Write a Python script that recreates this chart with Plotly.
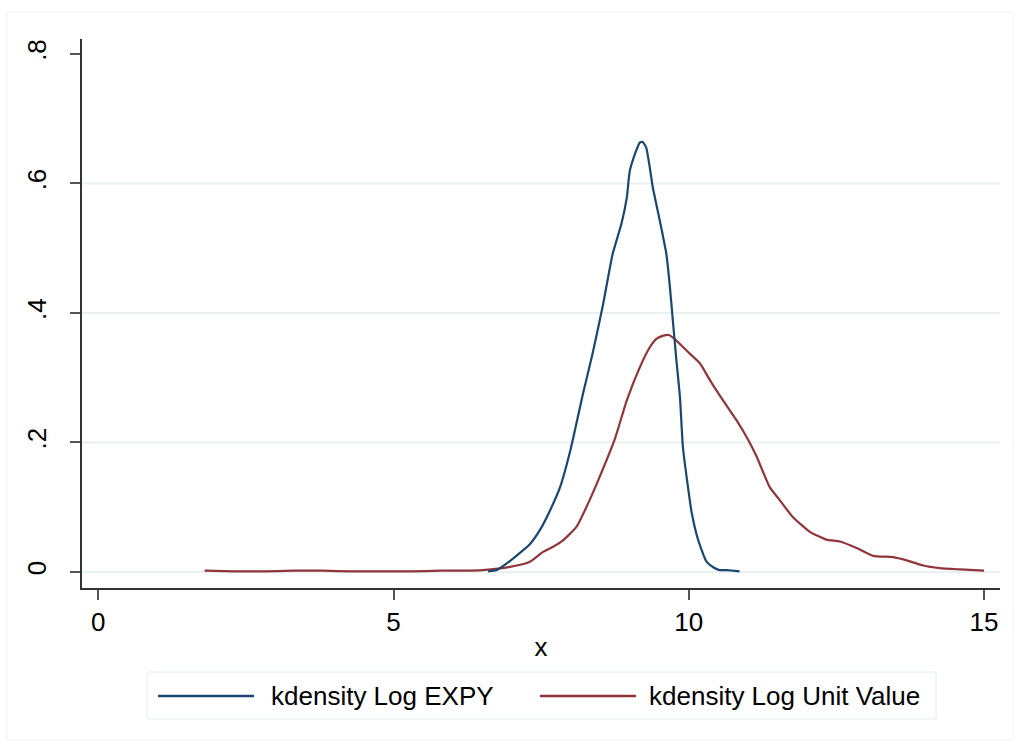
import plotly.graph_objects as go

# ---- data ----
expy_x = [6.6, 6.75, 6.9, 7.08, 7.3, 7.48, 7.65, 7.82, 8.0, 8.21, 8.37, 8.55, 8.71, 8.86, 8.95,
          9.0, 9.09, 9.17, 9.22, 9.28, 9.34, 9.39, 9.51, 9.62, 9.68, 9.73, 9.79, 9.85, 9.90,
          9.97, 10.05, 10.16, 10.30, 10.42, 10.52, 10.65, 10.86]
expy_y = [0.001, 0.003, 0.012, 0.025, 0.042, 0.065, 0.095, 0.131, 0.19, 0.276, 0.337, 0.414,
          0.491, 0.538, 0.578, 0.619, 0.646, 0.663, 0.664, 0.655, 0.624, 0.594, 0.542, 0.491,
          0.44, 0.388, 0.327, 0.27, 0.193, 0.142, 0.091, 0.049, 0.016, 0.007, 0.003, 0.003, 0.001]

uv_x = [1.8, 2.3, 2.8, 3.3, 3.8, 4.3, 4.8, 5.3, 5.8, 6.2, 6.51, 6.97, 7.31, 7.53, 7.7, 7.87, 8.10,
        8.32, 8.55, 8.75, 8.95, 9.17, 9.34, 9.45, 9.57, 9.66, 9.76, 9.96, 10.19, 10.36, 10.58,
        10.81, 11.0, 11.15, 11.37, 11.54, 11.76, 12.05, 12.33, 12.56, 12.84, 13.12, 13.46,
        13.69, 13.97, 14.25, 14.59, 15.0]
uv_y = [0.002, 0.001, 0.001, 0.002, 0.002, 0.001, 0.001, 0.001, 0.002, 0.002, 0.003, 0.008,
        0.016, 0.031, 0.039, 0.049, 0.07, 0.111, 0.16, 0.206, 0.265, 0.316, 0.347, 0.36, 0.365,
        0.366, 0.36, 0.342, 0.322, 0.296, 0.265, 0.234, 0.205, 0.178, 0.131, 0.111, 0.085,
        0.062, 0.05, 0.047, 0.037, 0.025, 0.023, 0.018, 0.010, 0.006, 0.004, 0.002]

series_names = ["kdensity Log EXPY", "kdensity Log Unit Value"]
series_colors = ["#1a476f", "#90353b"]

x_ticks = [0, 5, 10, 15]
x_tick_labels = ["0", "5", "10", "15"]
y_ticks = [0, 0.2, 0.4, 0.6, 0.8]
y_tick_labels = ["0", ".2", ".4", ".6", ".8"]
grid_values = [0, 0.2, 0.4, 0.6]

W, H = 1020, 746
L, R, T, B = 82, 20, 39, 158
pw, ph = W - L - R, H - T - B


def px_x(p):
    return (p - L) / pw


def px_y(p):
    return (H - B - p) / ph


FONT = "Arial, Liberation Sans, sans-serif"
FS = 26

fig = go.Figure()
fig.add_trace(go.Scatter(x=uv_x, y=uv_y, mode="lines", name=series_names[1],
                         line=dict(color=series_colors[1], width=2.2, shape="spline", smoothing=0.5),
                         showlegend=False))
fig.add_trace(go.Scatter(x=expy_x, y=expy_y, mode="lines", name=series_names[0],
                         line=dict(color=series_colors[0], width=2.2, shape="spline", smoothing=0.5),
                         showlegend=False))

shapes = []
# gridlines (Stata draws them at interior ticks only)
for g in grid_values:
    shapes.append(dict(type="line", xref="paper", yref="y", x0=0, x1=1, y0=g, y1=g,
                       line=dict(color="#eaf0f2", width=2), layer="below"))
# outer graph-region border
shapes.append(dict(type="rect", xref="paper", yref="paper",
                   x0=px_x(7), x1=px_x(1013), y0=px_y(12), y1=px_y(740),
                   line=dict(color="#eef2f4", width=1), layer="below"))
# legend box
shapes.append(dict(type="rect", xref="paper", yref="paper",
                   x0=px_x(147), x1=px_x(936), y0=px_y(672), y1=px_y(719),
                   line=dict(color="#e3ecee", width=1), fillcolor="white", layer="below"))
annotations = []
leg_y = 696
for (lx0, lx1, tx), name, col in zip([(158, 254, 269), (540, 636, 647)], series_names, series_colors):
    shapes.append(dict(type="line", xref="paper", yref="paper",
                       x0=px_x(lx0), x1=px_x(lx1), y0=px_y(leg_y), y1=px_y(leg_y),
                       line=dict(color=col, width=2.5)))
    annotations.append(dict(xref="paper", yref="paper", x=px_x(tx), y=px_y(leg_y),
                            text=name, showarrow=False, xanchor="left", yanchor="middle",
                            font=dict(family=FONT, size=FS, color="black")))

fig.update_layout(
    width=W, height=H,
    margin=dict(l=L, r=R, t=T, b=B),
    paper_bgcolor="white", plot_bgcolor="white",
    font=dict(family=FONT, size=FS, color="black"),
    shapes=shapes, annotations=annotations,
    showlegend=False,
    xaxis=dict(range=[-0.276, 15.27], tickvals=x_ticks, ticktext=x_tick_labels,
               showgrid=False, zeroline=False, showline=True, linecolor="#333333", linewidth=1.5,
               ticks="outside", ticklen=10, tickcolor="#555555", tickwidth=1.5,
               tickfont=dict(size=FS), title=dict(text="x", font=dict(size=FS), standoff=2)),
    yaxis=dict(range=[-0.0247, 0.823], tickvals=y_ticks, ticktext=y_tick_labels,
               showgrid=False, zeroline=False, showline=True, linecolor="#333333", linewidth=1.5,
               ticks="outside", ticklen=10, tickcolor="#555555", tickwidth=1.5,
               tickangle=-90, tickfont=dict(size=FS), ticklabelstandoff=14),
)

fig.write_html("out.html")
